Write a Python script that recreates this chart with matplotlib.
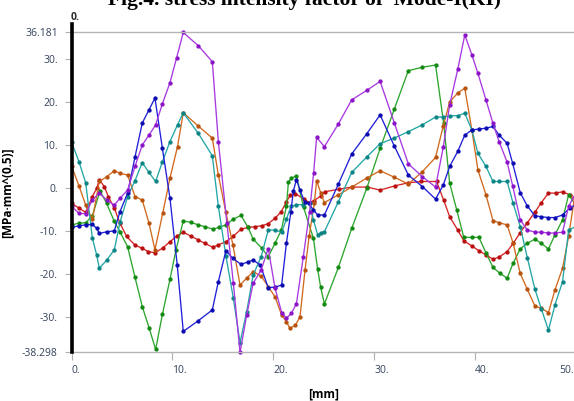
import matplotlib
matplotlib.use("Agg")
import matplotlib.pyplot as plt
from matplotlib.lines import Line2D

# ---- data (x in mm, K in MPa*mm^0.5)
red_x = [0, 0.72, 1.39, 2.05, 2.48, 2.74, 3.24, 3.63, 4.23, 4.79, 5.45, 6.28, 6.94, 7.6, 8.26, 9.03, 9.75, 10.4,
         11.07, 11.8, 12.56, 13.2, 14.0, 14.5, 15.3, 16.0, 16.8, 17.5, 18.2, 18.9, 19.5, 20.2, 20.8, 21.3, 21.7,
         22.2, 23.0, 23.6, 24.0, 24.7, 25.1, 26.5, 27.8, 29.3, 30.6, 32.1, 33.4, 34.7, 36.2, 36.9, 37.5, 38.3,
         38.9, 39.7, 40.4, 41.1, 41.8, 42.4, 43.2, 43.8, 44.5, 45.2, 46.0, 46.6, 47.3, 48.0, 48.7, 49.4, 50.0]
red_y = [-3.6, -4.7, -5.7, -2.0, -0.1, 1.9, 0.3, -2.0, -4.7, -8.2, -11.3, -13.3, -14.0, -14.8, -15.1, -14.0,
         -12.5, -11.3, -10.3, -11.2, -12.1, -12.9, -13.8, -13.3, -12.5, -11.3, -9.6, -9.2, -9.0, -8.8, -8.3,
         -7.0, -5.5, -3.2, -1.7, -1.3, -2.6, -3.4, -3.0, -1.9, -0.9, -0.3, 0.2, 0.2, -0.5, 0.5, 1.2, 1.5, 1.5,
         -2.8, -6.7, -9.8, -12.3, -13.5, -14.6, -15.6, -16.6, -16.1, -14.8, -12.9, -10.4, -8.1, -5.5, -3.4,
         -1.2, -1.2, -0.9, -1.6, -3.0]

green_x = [0, 0.72, 1.39, 2.05, 2.81, 3.47, 4.23, 4.79, 5.55, 6.28, 7.0, 7.67, 8.33, 9.0, 9.75, 10.35, 11.07,
           11.8, 12.56, 13.2, 14.0, 14.6, 15.3, 16.0, 16.8, 17.5, 18.0, 18.85, 19.5, 20.17, 20.8, 21.3, 21.5,
           21.8, 22.3, 23.0, 23.98, 24.4, 24.7, 25.07, 26.46, 27.78, 29.27, 30.6, 32.0, 33.4, 34.8, 36.1, 36.9,
           37.5, 38.2, 38.9, 39.7, 40.4, 41.1, 41.8, 42.5, 43.2, 43.8, 44.5, 45.2, 45.96, 46.6, 47.3, 47.95,
           48.7, 49.3, 50.0]
green_y = [-8.6, -8.2, -8.1, -6.5, -0.7, -3.6, -7.8, -10.2, -13.7, -20.8, -27.6, -32.5, -37.6, -29.4, -21.3,
           -14.4, -7.7, -8.0, -8.6, -9.0, -9.6, -9.2, -8.6, -7.3, -6.4, -9.2, -11.9, -14.0, -16.0, -12.9, -9.8,
           -4.3, 1.3, 2.3, 2.8, -4.5, -11.7, -18.9, -23.1, -27.0, -18.5, -9.4, -0.1, 9.2, 18.3, 27.3, 28.1,
           28.6, 15.1, 1.1, -5.1, -11.5, -11.5, -11.5, -15.1, -18.5, -19.9, -21.0, -17.5, -14.2, -12.9, -11.9,
           -12.9, -14.2, -10.9, -7.4, -1.6, -4.0]

blue_x = [0, 0.72, 1.39, 2.05, 2.48, 2.74, 3.47, 4.23, 4.79, 5.55, 6.28, 7.0, 7.67, 8.26, 9.0, 9.75, 10.47,
          11.07, 12.56, 13.95, 14.55, 15.3, 16.0, 16.8, 17.5, 18.0, 18.7, 19.5, 20.17, 20.83, 21.3, 21.75,
          21.99, 22.3, 22.65, 23.1, 23.5, 23.98, 24.4, 25.07, 26.46, 27.78, 29.27, 30.6, 32.0, 33.4, 34.8,
          36.1, 36.87, 37.5, 38.3, 39.0, 39.7, 40.4, 41.1, 41.8, 42.4, 43.2, 43.75, 44.5, 45.2, 45.96, 46.6,
          47.3, 47.95, 48.7, 49.4, 50.0]
blue_y = [-9.2, -8.8, -8.6, -8.5, -9.4, -10.6, -10.2, -10.0, -5.5, -1.2, 7.2, 15.1, 18.2, 20.9, 9.2, -2.4,
          -17.9, -33.4, -30.9, -28.4, -21.8, -14.6, -16.4, -17.8, -17.2, -16.8, -17.9, -23.2, -23.1, -22.6,
          -12.9, -5.5, -0.7, 1.9, -0.5, -3.2, -3.6, -5.1, -6.3, -6.3, 0.9, 7.9, 12.6, 17.0, 9.8, 3.0, 0.3,
          -2.6, 0.7, 5.0, 8.5, 12.3, 13.5, 13.7, 13.9, 14.3, 12.3, 10.4, 5.7, -1.1, -4.2, -6.5, -6.7, -6.9,
          -6.9, -6.3, -4.7, -4.0]

purple_x = [0, 0.72, 1.39, 2.05, 2.74, 3.47, 4.23, 4.79, 5.55, 6.28, 7.0, 7.67, 8.33, 9.0, 9.75, 10.4, 11.07,
            12.56, 13.95, 14.55, 15.4, 16.04, 16.7, 17.36, 18.0, 18.8, 19.5, 20.17, 20.83, 21.3, 21.8, 22.3,
            22.98, 23.6, 24.0, 24.3, 25.07, 26.46, 27.78, 29.27, 30.6, 32.0, 33.4, 34.8, 36.1, 36.87, 37.5,
            38.3, 39.0, 39.7, 40.3, 41.1, 41.8, 42.4, 43.2, 43.75, 44.5, 45.2, 45.96, 46.6, 47.3, 47.95, 48.7,
            49.3, 50.0]
purple_y = [-4.3, -5.9, -6.0, -2.8, -1.2, -2.8, -4.0, -2.4, -0.5, 5.0, 10.0, 12.3, 14.7, 19.6, 24.5, 30.2,
            36.181, 33.1, 29.4, 10.8, -8.2, -22.2, -38.298, -29.6, -22.2, -19.1, -14.1, -23.3, -29.0, -30.3,
            -29.2, -26.9, -16.0, -5.5, 3.4, 11.8, 9.6, 14.9, 20.5, 22.7, 24.8, 15.2, 5.6, 2.6, 0.2, 9.6, 19.3,
            27.6, 35.6, 31.0, 26.7, 20.5, 15.0, 10.8, 6.0, 0.5, -7.4, -9.8, -10.3, -10.3, -10.5, -10.5, -10.3,
            -4.3, -1.2]

orange_x = [0, 0.72, 1.39, 2.05, 2.74, 3.47, 4.23, 4.79, 5.55, 6.28, 7.0, 7.67, 8.26, 9.03, 9.75, 10.5, 11.07,
            12.56, 13.95, 14.55, 15.3, 16.0, 16.7, 17.36, 18.0, 18.8, 19.5, 20.17, 20.83, 21.3, 21.65, 22.2,
            22.65, 23.15, 23.55, 24.07, 24.3, 24.7, 25.07, 26.46, 27.78, 29.27, 30.6, 32.0, 33.4, 34.8, 36.1,
            36.87, 37.5, 38.3, 39.0, 39.7, 40.3, 41.1, 41.8, 42.4, 43.2, 43.8, 44.5, 45.2, 45.96, 46.6, 47.3,
            47.95, 48.7, 49.3, 50.0]
orange_y = [5.0, 0.5, -4.0, -7.3, 1.5, 2.6, 4.0, 3.4, 3.0, -2.0, -2.8, -8.2, -14.4, -5.9, 2.3, 9.6, 17.5,
            14.4, 11.6, 3.0, -5.7, -13.3, -22.6, -21.0, -19.5, -20.5, -23.0, -25.3, -29.6, -31.1, -32.7, -31.9,
            -30.0, -19.1, -11.3, -3.6, 1.7, -1.1, -3.4, -1.6, 0.2, 2.3, 4.0, 2.5, 0.9, 3.8, 7.1, 14.5, 20.0,
            22.1, 23.2, 13.5, 4.2, -1.6, -7.6, -8.1, -8.6, -12.9, -19.9, -23.6, -27.5, -28.0, -29.0, -23.7,
            -18.7, -11.3, -0.5]

teal_x = [0, 0.72, 1.39, 2.05, 2.48, 2.74, 3.47, 4.23, 4.79, 5.55, 6.28, 7.0, 7.67, 8.33, 9.0, 9.75, 10.5,
          11.07, 12.56, 13.95, 14.55, 15.3, 16.04, 16.7, 17.36, 18.0, 18.8, 19.5, 20.17, 20.83, 21.3, 21.75,
          22.3, 22.98, 23.6, 23.98, 24.4, 24.7, 25.07, 26.46, 27.78, 29.27, 30.6, 32.0, 33.4, 34.8, 36.1, 36.87,
          37.5, 38.3, 39.0, 39.7, 40.3, 41.1, 41.8, 42.4, 43.2, 43.8, 44.5, 45.2, 45.96, 46.6, 47.3, 47.95,
          48.7, 49.3, 50.0]
teal_y = [10.6, 6.1, 1.2, -11.7, -15.6, -18.7, -16.8, -14.4, -8.0, -2.0, 1.7, 5.9, 3.6, 1.5, 6.1, 10.8, 14.7,
          17.5, 12.7, 7.5, -4.3, -15.8, -25.7, -36.0, -28.8, -20.3, -16.0, -9.8, -9.8, -10.3, -7.3, -4.3, -3.9,
          -3.9, -3.6, -7.4, -10.9, -10.4, -10.2, -3.2, 3.6, 7.2, 10.3, 11.6, 13.1, 14.7, 16.5, 16.5, 16.8, 16.8,
          17.4, 13.5, 8.1, 5.0, 1.5, 1.5, 1.5, -3.6, -9.0, -16.2, -23.6, -28.2, -33.1, -27.2, -21.8, -9.8, -9.0]

y_ticks = [36.181, 30, 20, 10, 0, -10, -20, -30, -38.298]
y_tick_labels = ["36.181", "30.", "20.", "10.", "0.", "-10.", "-20.", "-30.", "-38.298"]
x_ticks = [0, 10, 20, 30, 40, 50]
x_tick_labels = ["0.", "10.", "20.", "30.", "40.", ""]

# ---- figure
fig = plt.figure(figsize=(5.74, 4.01), dpi=100)
ax = fig.add_axes([0.1249, 0.121, 0.878, 0.798])

series = [
    (red_x, red_y, "#d62424", "#b81010"),
    (green_x, green_y, "#2ca52c", "#128a12"),
    (orange_x, orange_y, "#d2691e", "#b8520e"),
    (teal_x, teal_y, "#22a6a6", "#0e8585"),
    (blue_x, blue_y, "#2020d8", "#0c0cb0"),
    (purple_x, purple_y, "#a838e0", "#8c14c8"),
]
for xs, ys, c, mc in series:
    ax.plot(xs, ys, color=c, lw=0.95, marker="o", ms=2.1, mfc=mc, mec=mc, clip_on=False)

ax.set_xlim(0, 50)
ax.set_ylim(-38.298, 36.181)

tick_col = "#34415c"
ax.set_yticks(y_ticks)
ax.set_yticklabels(y_tick_labels, fontsize=7.5, color=tick_col, fontfamily="Open Sans")
ax.set_xticks(x_ticks)
ax.set_xticklabels(x_tick_labels, fontsize=7.5, color=tick_col, fontfamily="Open Sans", ha="left")
ax.tick_params(axis="y", length=5, color="#b0b0b0", pad=5)
ax.tick_params(axis="x", length=6, color="#b0b0b0", pad=3)
# last x label is pushed inside the picture, as in the original export
ax.annotate("50.", xy=(50, 0), xycoords=("data", "axes fraction"), xytext=(-11.5, -9),
            textcoords="offset points", fontsize=7.5, color=tick_col, fontfamily="Open Sans",
            ha="left", va="top", annotation_clip=False)

for side in ["top", "bottom"]:
    ax.spines[side].set_color("#b4b4b4")
    ax.spines[side].set_linewidth(1.0)
ax.spines["right"].set_visible(False)
ax.spines["left"].set_visible(False)
ax.add_line(Line2D([0, 0], [0, 1.025], transform=ax.transAxes, color="black", lw=2.6,
                   clip_on=False, zorder=5))

ax.set_xlabel("[mm]", fontsize=8.5, fontweight="bold", fontfamily="Open Sans", labelpad=8)
ax.set_ylabel("[MPa\u00b7mm^(0.5)]", fontsize=8.5, fontweight="bold", fontfamily="Open Sans", labelpad=6)

fig.text(71 / 574, 1 - 17 / 401, "0.", fontsize=7.5, fontweight="bold", color="#2a2a2a",
         fontfamily="Open Sans", ha="left", va="center")
fig.text(305 / 574, 1 - 5.5 / 401, "Fig.4. stress intensity factor of  Mode-I(KI)", fontsize=15.5,
         fontweight="bold", fontfamily="Liberation Serif", ha="center", va="baseline")

fig.savefig("out.png", dpi=100)
